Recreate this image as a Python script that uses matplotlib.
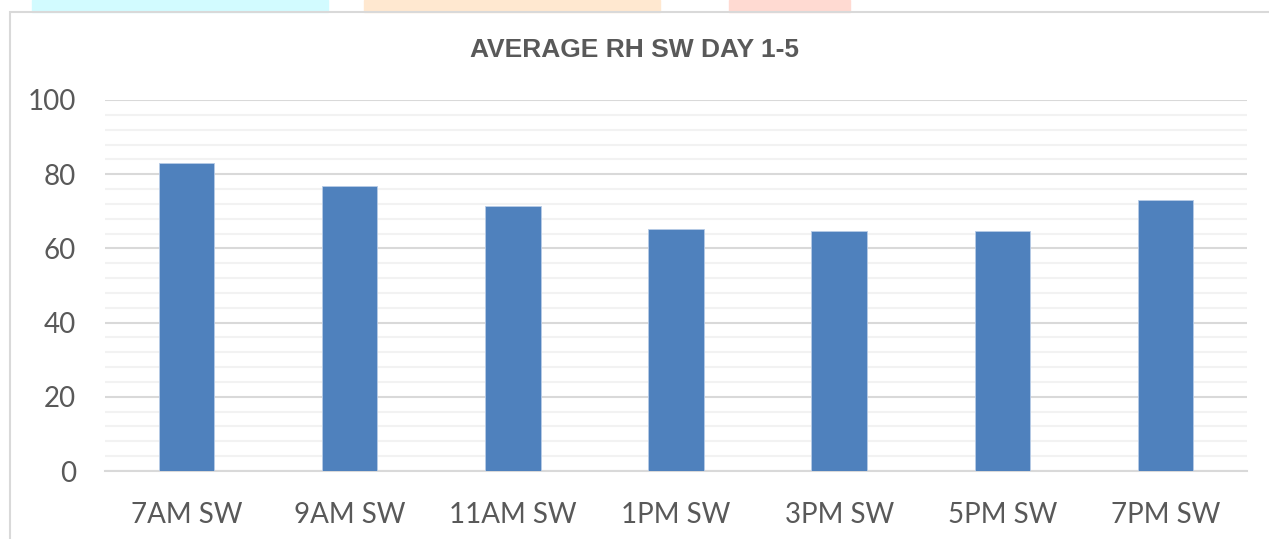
import matplotlib.pyplot as plt
from matplotlib.patches import Rectangle
import numpy as np

# data
categories = ["7AM SW", "9AM SW", "11AM SW", "1PM SW", "3PM SW", "5PM SW", "7PM SW"]
rh_values = [83.0, 76.8, 71.4, 65.2, 64.7, 64.7, 73.0]
y_ticks = [0, 20, 40, 60, 80, 100]

BAR_COLOR = "#4F81BD"
TEXT_COLOR = "#595959"

fig = plt.figure(figsize=(12.69, 5.39), dpi=100)

# faint watermark shapes peeking in at the top edge
for x0, x1, col in [(32, 328, "#d2fbff"), (364, 660, "#ffe8d0"), (729, 850, "#ffdad2")]:
    fig.patches.append(Rectangle((x0 / 1269, 1 - 12 / 539), (x1 - x0) / 1269, 12 / 539,
                                 transform=fig.transFigure, color=col, zorder=0))

# chart frame
fig.patches.append(Rectangle((10 / 1269, -0.05), 1.2, 1 - 12 / 539 + 0.05,
                             transform=fig.transFigure, fill=False,
                             edgecolor="#d9d9d9", linewidth=1.5, zorder=1))

ax = fig.add_axes([105 / 1269, 1 - 471 / 539, 1142 / 1269, 371 / 539])

x = np.arange(len(categories))
ax.bar(x, rh_values, width=0.34, color=BAR_COLOR, edgecolor="#b7cbe6", linewidth=0.6, zorder=3)

ax.set_xlim(-0.5, len(categories) - 0.5)
ax.set_ylim(0, 100)
ax.set_yticks(y_ticks)
ax.set_yticks(np.arange(0, 101, 4), minor=True)
ax.set_xticks(x)
ax.set_xticklabels(categories)

ax.grid(axis="y", which="major", color="#d9d9d9", linewidth=1.5, zorder=0)
ax.grid(axis="y", which="minor", color="#f2f2f2", linewidth=1.5, zorder=0)
ax.set_axisbelow(True)

for s in ["top", "right", "left"]:
    ax.spines[s].set_visible(False)
ax.spines["bottom"].set_color("#d9d9d9")
ax.spines["bottom"].set_linewidth(1.5)

ax.tick_params(axis="both", which="both", length=0, labelsize=20, colors=TEXT_COLOR)
ax.tick_params(axis="x", pad=22)
ax.tick_params(axis="y", pad=21)
for lab in ax.get_xticklabels() + ax.get_yticklabels():
    lab.set_family("Lato")

fig.text(0.5, 1 - 50 / 539, "AVERAGE RH SW DAY 1-5", ha="center", va="center",
         fontsize=19, fontweight="bold", color=TEXT_COLOR, family="Liberation Sans")

fig.savefig("out.png", dpi=100)
